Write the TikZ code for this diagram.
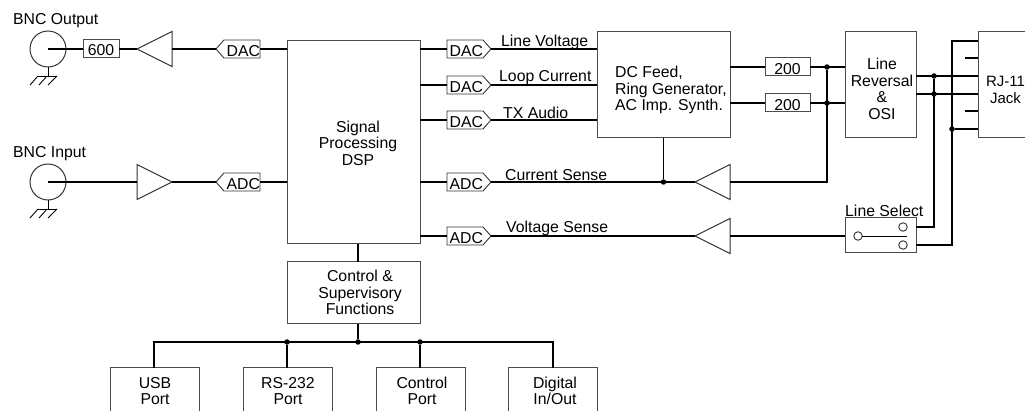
\documentclass[tikz,border=0pt]{standalone}
\usepackage{fontspec}
\setmainfont{Liberation Sans}
\usetikzlibrary{shapes.geometric,shapes.symbols}
\tikzset{
  block/.style={draw=black!70,line width=1pt,inner sep=0pt,outer sep=0pt},
  txt/.style={inner sep=0pt,font=\fontsize{15.8}{16.6}\selectfont,align=center},
  sig/.style={inner sep=0pt,anchor=base west,font=\fontsize{15.8}{16.6}\selectfont},
  wire/.style={line width=1.4pt},
  thinwire/.style={line width=.9pt},
  dot/.style={circle,fill=black,inner sep=0pt,minimum size=5.5pt},
  bnc/.style={circle,draw=black!80,line width=1pt,minimum size=36pt,inner sep=0pt,outer sep=0pt},
  contact/.style={circle,draw=black!80,fill=white,line width=.9pt,minimum size=8.5pt,inner sep=0pt,outer sep=0pt},
  amp/.style={isosceles triangle,isosceles triangle stretches,draw=black!80,line width=1pt,
    minimum width=35pt,minimum height=35pt,inner sep=0pt,outer sep=0pt},
  tagr/.style={signal,signal to=east,signal from=nowhere,signal pointer angle=97,draw=black!80,line width=.9pt,
    text width=36pt,align=right,text height=17pt,text depth=1pt,inner sep=0pt,outer sep=0pt,
    font=\fontsize{15.8}{16.6}\selectfont},
  tagl/.style={tagr,signal to=west},
  gnd/.pic={
    \draw[thinwire] (0,0) -- (0,9);
    \draw[thinwire] (-10,9) -- (9,9);
    \draw[thinwire] (9,9) -- (0,18);
    \draw[thinwire] (-1,9) -- (-9,18);
    \draw[thinwire] (-10,9) -- (-18,18);
  }
}
\begin{document}
\begin{tikzpicture}[x=1pt,y=-1pt]
  \clip (0,0) rectangle (1025,411);
  % large blocks
  \node[block,minimum width=133pt,minimum height=203pt] (dsp) at (353.5,142.5) {};
  \node[block,minimum width=133pt,minimum height=106pt] (feed) at (663.5,85) {};
  \node[block,minimum width=71pt,minimum height=106pt] (reversal) at (880.5,85) {};
  \node[block,minimum width=82pt,minimum height=106pt] (jack) at (1019,85) {};
  \node[block,minimum width=71pt,minimum height=35pt] (select) at (880.5,235.5) {};
  \node[block,minimum width=133pt,minimum height=62pt] (control) at (353.5,293) {};
  \node[block,minimum width=89pt,minimum height=62pt] (usb) at (154.5,399) {};
  \node[block,minimum width=89pt,minimum height=62pt] (rs) at (287.5,399) {};
  \node[block,minimum width=89pt,minimum height=62pt] (cport) at (420.5,399) {};
  \node[block,minimum width=89pt,minimum height=62pt] (dio) at (552.5,399) {};
  \node[block,minimum width=36pt,minimum height=18pt,txt,text height=16pt,text depth=2pt] (rout) at (101,49) {600};
  \node[block,minimum width=45pt,minimum height=18pt,txt,text height=17pt,text depth=1pt] (rtop) at (787.5,67) {200};
  \node[block,minimum width=45pt,minimum height=18pt,txt,text height=17pt,text depth=1pt] (rbot) at (787.5,103) {200};

  % texts of the blocks
  \node[txt] (dsptext) at (358,143) {Signal\\Processing\\DSP};
  \node[txt,align=left,anchor=west] (feedtext) at (615,90) {DC Feed,\\Ring Generator,\\AC Imp. Synth.};
  \node[txt] (revtext) at (882,89) {Line\\Reversal\\\&\\OSI};
  \node[txt,font=\fontsize{15}{16.6}\selectfont] (jacktext) at (1005.5,90) {RJ-11\\Jack};
  \node[txt] (ctrltext) at (360,292.5) {Control \&\\Supervisory\\Functions};
  \node[txt] (usbtext) at (155,391) {USB\\Port};
  \node[txt] (rstext) at (288,391) {RS-232\\Port};
  \node[txt] (cporttext) at (422,391) {Control\\Port};
  \node[txt] (diotext) at (555,391) {Digital\\In/Out};

  % connectors on the left
  \node[bnc] (bncout) at (48,49) {};
  \node[bnc] (bncin) at (48,182) {};
  \node[amp,shape border rotate=180,anchor=apex] (ampout) at (137,49) {};
  \node[amp,anchor=apex] (ampin) at (172,182) {};
  \node[tagl,anchor=west] (dacout) at (216,49) {DAC};
  \node[tagl,anchor=west] (adcin) at (216,182) {ADC};
  \node[sig] (bncouttext) at (13,25) {BNC Output};
  \node[sig] (bncintext) at (13,158) {BNC Input};
  \draw pic at (bncout.south) {gnd};
  \draw pic at (bncin.south) {gnd};
  \draw[wire] (bncout.center) -- (rout.west);
  \draw[wire] (rout.east) -- (ampout.apex);
  \draw[wire] (ampout.lower side) -- (dacout.west);
  \draw[wire] (dacout.east) -- (dacout.east -| dsp.west);
  \draw[wire] (bncin.center) -- (ampin.lower side);
  \draw[wire] (ampin.apex) -- (adcin.west);
  \draw[wire] (adcin.east) -- (adcin.east -| dsp.west);

  % converters right of the dsp
  \node[tagr,anchor=west] (dacline) at (447,49) {DAC};
  \node[tagr,anchor=west] (dacloop) at (447,85) {DAC};
  \node[tagr,anchor=west] (dactx) at (447,120) {DAC};
  \node[tagr,anchor=west] (adccur) at (447,182) {ADC};
  \node[tagr,anchor=west] (adcvolt) at (447,236) {ADC};
  \draw[wire] (dacline.west -| dsp.east) -- (dacline.west);
  \draw[wire] (dacloop.west -| dsp.east) -- (dacloop.west);
  \draw[wire] (dactx.west -| dsp.east) -- (dactx.west);
  \draw[wire] (adccur.west -| dsp.east) -- (adccur.west);
  \draw[wire] (adcvolt.west -| dsp.east) -- (adcvolt.west);
  \draw[wire] (dacline.east) -- (dacline.east -| feed.west);
  \draw[wire] (dacloop.east) -- (dacloop.east -| feed.west);
  \draw[wire] (dactx.east) -- (dactx.east -| feed.west);
  \node[sig] (linetext) at (501,47) {Line Voltage};
  \node[sig] (looptext) at (499,82) {Loop Current};
  \node[sig] (txtext) at (503,119) {TX Audio};
  \node[sig] (curtext) at (505,181) {Current Sense};
  \node[sig] (volttext) at (506,233) {Voltage Sense};
  \node[sig] (seltext) at (845,217) {Line Select};

  % sense amplifiers
  \node[amp,shape border rotate=180,anchor=apex] (ampcur) at (695,182) {};
  \node[amp,shape border rotate=180,anchor=apex] (ampvolt) at (695,236) {};
  \node[dot] (curjoin) at (feed.south |- ampcur.apex) {};
  \draw[wire] (adccur.east) -- (ampcur.apex);
  \draw[wire] (adcvolt.east) -- (ampvolt.apex);
  \draw[wire] (feed.south) -- (curjoin);
  \draw[wire] (ampvolt.lower side) -- (ampvolt.lower side -| select.west);

  % line feed
  \node[dot] (topjoin) at (827,67) {};
  \node[dot] (botjoin) at (827,103) {};
  \coordinate (sensecorner) at (827,182);
  \draw[wire] (rtop.west -| feed.east) -- (rtop.west);
  \draw[wire] (rbot.west -| feed.east) -- (rbot.west);
  \draw[wire] (rtop.east) -- (rtop.east -| reversal.west);
  \draw[wire] (rbot.east) -- (rbot.east -| reversal.west);
  \draw[wire] (topjoin) -- (sensecorner) -- (ampcur.lower side);

  % jack side
  \node[dot] (tipjoin) at (934,76) {};
  \node[dot] (ringjoin) at (934,94) {};
  \node[dot] (lowjoin) at (952,129) {};
  \coordinate (selup) at (934,227);
  \coordinate (seldown) at (952,245);
  \coordinate (jackup) at (952,41);
  \coordinate (stubtop) at (965,58);
  \coordinate (stubbot) at (965,111);
  \draw[wire] (tipjoin -| reversal.east) -- (tipjoin -| jack.west);
  \draw[wire] (ringjoin -| reversal.east) -- (ringjoin -| jack.west);
  \draw[wire] (lowjoin) -- (lowjoin -| jack.west);
  \draw[wire] (stubtop) -- (stubtop -| jack.west);
  \draw[wire] (stubbot) -- (stubbot -| jack.west);
  \draw[wire] (tipjoin) -- (selup) -- (selup -| select.east);
  \draw[wire] (jackup -| jack.west) -- (jackup) -- (seldown) -- (seldown -| select.east);

  % switch
  \node[contact] (swcom) at (858,236) {};
  \node[contact] (swup) at (903,227) {};
  \node[contact] (swdown) at (903,245) {};
  \coordinate (swtip) at (907,236);
  \draw[thinwire] (swcom) -- (swtip);

  % control bus
  \node[dot] (busrs) at (287,342) {};
  \node[dot] (busmid) at (358,342) {};
  \node[dot] (buscp) at (420,342) {};
  \coordinate (bususb) at (154,342);
  \coordinate (busdio) at (553,342);
  \draw[wire] (dsp.south -| busmid) -- (control.north -| busmid);
  \draw[wire] (control.south -| busmid) -- (busmid);
  \draw[wire] (usb.north -| bususb) -- (bususb) -- (busdio) -- (dio.north -| busdio);
  \draw[wire] (busrs) -- (rs.north -| busrs);
  \draw[wire] (buscp) -- (cport.north -| buscp);
\end{tikzpicture}
\end{document}
